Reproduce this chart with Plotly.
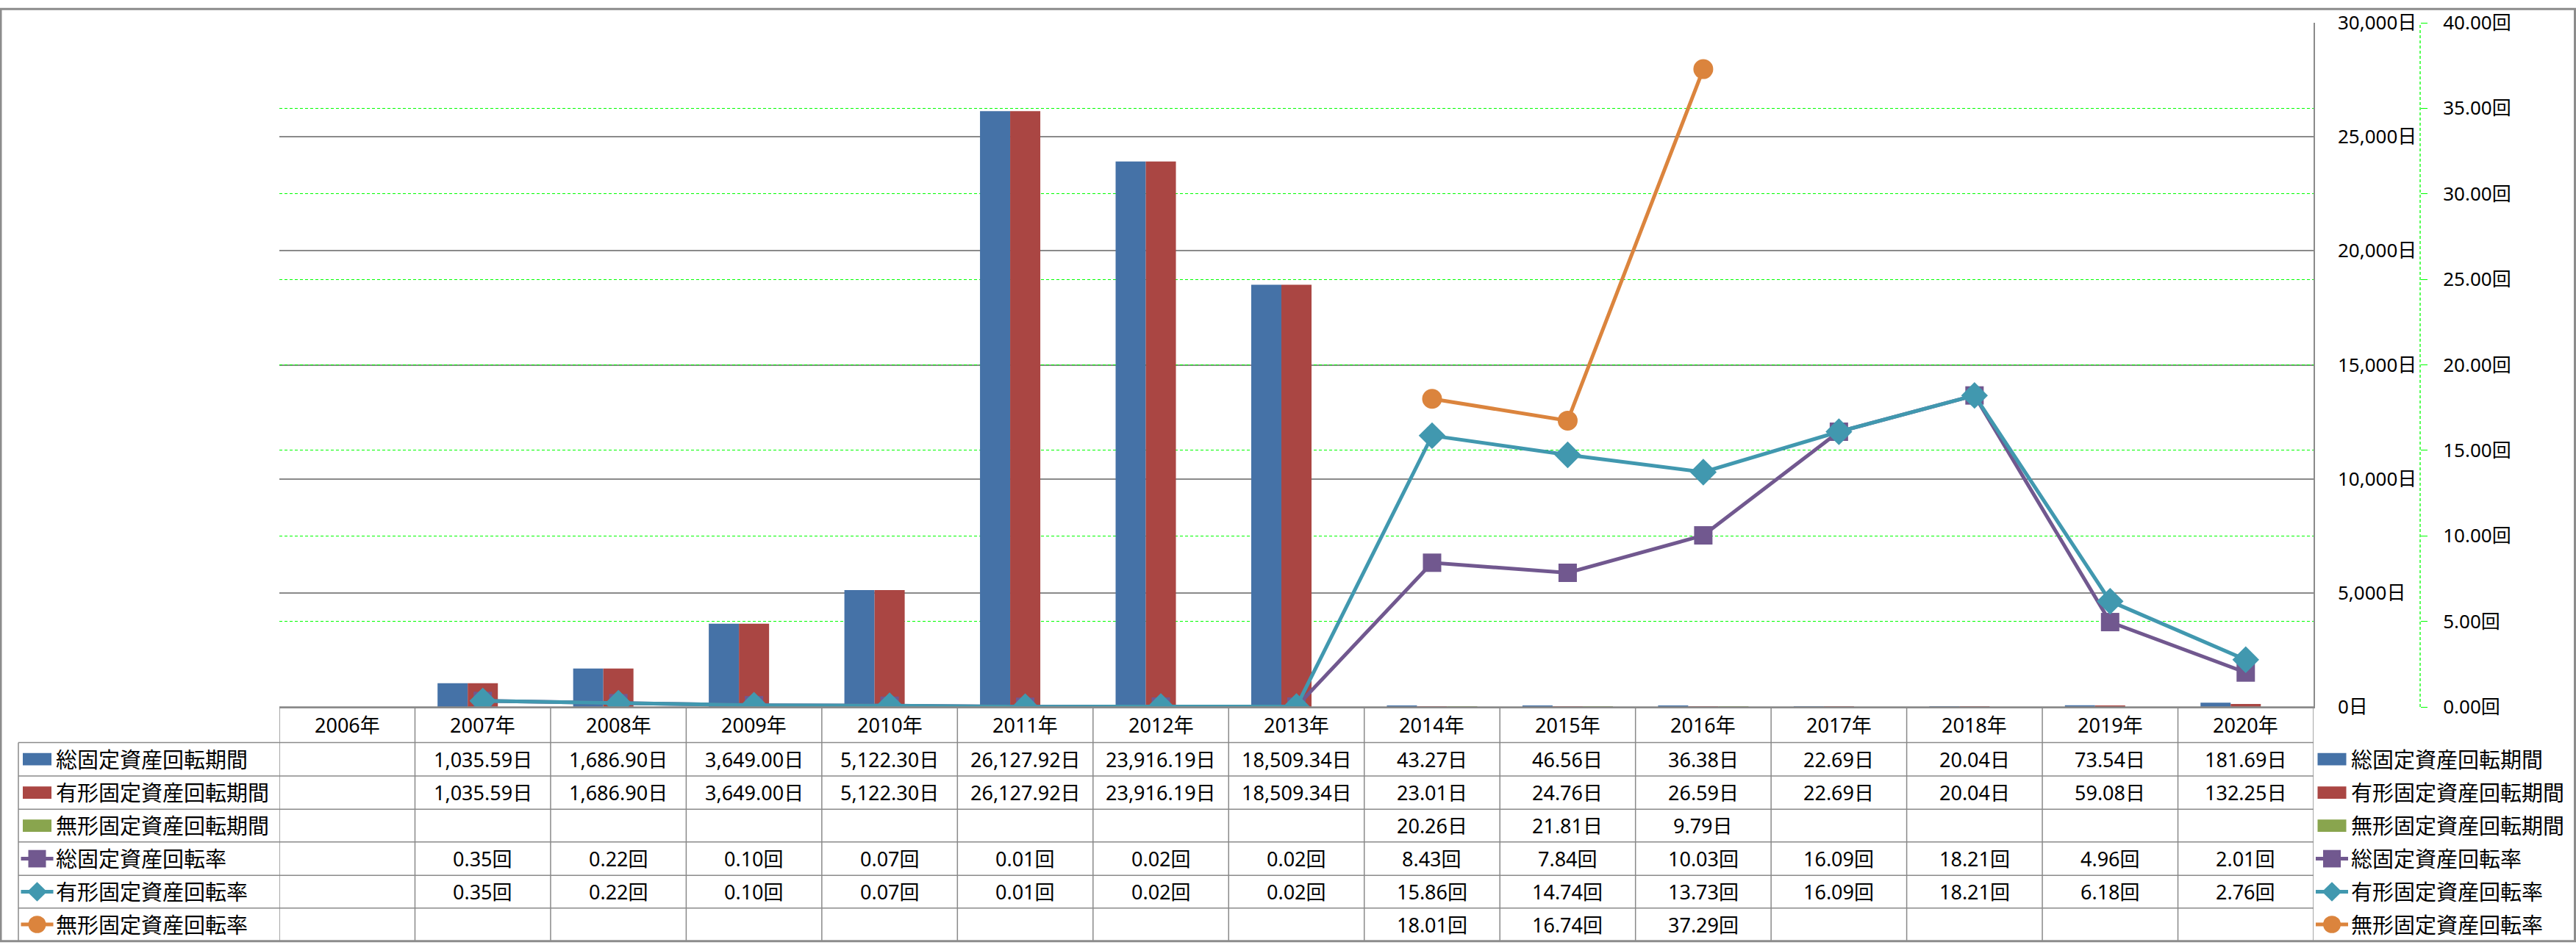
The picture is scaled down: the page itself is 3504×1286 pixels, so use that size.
import plotly.graph_objects as go

# ---------------- data ----------------
years = ["2006年", "2007年", "2008年", "2009年", "2010年", "2011年", "2012年", "2013年",
         "2014年", "2015年", "2016年", "2017年", "2018年", "2019年", "2020年"]

total_period = [None, 1035.59, 1686.90, 3649.00, 5122.30, 26127.92, 23916.19, 18509.34,
                43.27, 46.56, 36.38, 22.69, 20.04, 73.54, 181.69]
tangible_period = [None, 1035.59, 1686.90, 3649.00, 5122.30, 26127.92, 23916.19, 18509.34,
                   23.01, 24.76, 26.59, 22.69, 20.04, 59.08, 132.25]
intangible_period = [None, None, None, None, None, None, None, None,
                     20.26, 21.81, 9.79, None, None, None, None]
total_rate = [None, 0.35, 0.22, 0.10, 0.07, 0.01, 0.02, 0.02,
              8.43, 7.84, 10.03, 16.09, 18.21, 4.96, 2.01]
tangible_rate = [None, 0.35, 0.22, 0.10, 0.07, 0.01, 0.02, 0.02,
                 15.86, 14.74, 13.73, 16.09, 18.21, 6.18, 2.76]
intangible_rate = [None, None, None, None, None, None, None, None,
                   18.01, 16.74, 37.29, None, None, None, None]

names = ["総固定資産回転期間", "有形固定資産回転期間", "無形固定資産回転期間",
         "総固定資産回転率", "有形固定資産回転率", "無形固定資産回転率"]
units = ["日", "日", "日", "回", "回", "回"]

# ---------------- styling ----------------
C_BLUE, C_RED, C_GREEN = "#4572A7", "#AA4643", "#89A54E"
C_PURPLE, C_TEAL, C_ORANGE = "#71588F", "#4198AF", "#DB843D"
GRID = "#8a8a8a"
LIME = "#00FF00"
FONT = "Noto Sans, Noto Sans CJK JP, sans-serif"

W, H = 3504, 1286
ML, MR, MT, MB = 380, 212, 20, 324
PWID = W - ML - MR
PHGT = H - MT - MB
X_RIGHT = 3147  # right edge of plot area / table


def px(x):
    return (x - ML) / PWID


def py(y):
    return (H - MB - y) / PHGT


fig = go.Figure()

bar_series = [(total_period, C_BLUE), (tangible_period, C_RED), (intangible_period, C_GREEN)]
for (vals, col), nm in zip(bar_series, names[:3]):
    fig.add_trace(go.Bar(x=years, y=vals, name=nm, marker=dict(color=col, line=dict(width=0)),
                         yaxis="y"))

line_series = [(total_rate, C_PURPLE, "square", 25),
               (tangible_rate, C_TEAL, "diamond", 28),
               (intangible_rate, C_ORANGE, "circle", 27)]
for (vals, col, sym, sz), nm in zip(line_series, names[3:]):
    fig.add_trace(go.Scatter(x=years, y=vals, name=nm, yaxis="y2", mode="lines+markers",
                             line=dict(color=col, width=5),
                             marker=dict(symbol=sym, size=sz, color=col),
                             connectgaps=False))

shapes = []
annotations = []

# secondary axis dashed line
shapes.append(dict(type="line", xref="paper", yref="paper", x0=1, x1=1, y0=0, y1=1,
                   line=dict(color=LIME, width=1.3, dash="4px,3px")))

# ---------------- data table ----------------
row_lines = [1011, 1057, 1103, 1148, 1194, 1239]
row_centers = [1034, 1080, 1125.5, 1171, 1216.5, 1261.5]
header_center = 986.5
TBL_TOP, TBL_BOT, TBL_LEFT = 962, 1284, 25
LINE = dict(color=GRID, width=1.5)

shapes.append(dict(type="line", xref="paper", yref="paper", x0=px(ML), x1=px(X_RIGHT),
                   y0=py(TBL_TOP), y1=py(TBL_TOP), line=LINE))
for yy in row_lines:
    shapes.append(dict(type="line", xref="paper", yref="paper", x0=px(TBL_LEFT), x1=px(X_RIGHT),
                       y0=py(yy), y1=py(yy), line=LINE))
for i in range(len(years) + 1):
    shapes.append(dict(type="line", xref="x", yref="paper", x0=i - 0.5, x1=i - 0.5,
                       y0=py(TBL_TOP), y1=py(TBL_BOT), line=LINE))
shapes.append(dict(type="line", xref="paper", yref="paper", x0=px(TBL_LEFT), x1=px(TBL_LEFT),
                   y0=py(row_lines[0]), y1=py(TBL_BOT), line=LINE))

# header row
for yr in years:
    annotations.append(dict(x=yr, xref="x", y=py(header_center), yref="paper", text=yr,
                            showarrow=False, font=dict(size=27, color="black", family=FONT),
                            xanchor="center", yanchor="middle"))

all_vals = [total_period, tangible_period, intangible_period,
            total_rate, tangible_rate, intangible_rate]
for vals, unit, cy in zip(all_vals, units, row_centers):
    for yr, v in zip(years, vals):
        if v is None:
            continue
        txt = f"{v:,.2f}{unit}"
        annotations.append(dict(x=yr, xref="x", y=py(cy), yref="paper", text=txt,
                                showarrow=False, font=dict(size=27, color="black", family=FONT),
                                xanchor="center", yanchor="middle"))

key_defs = [("bar", C_BLUE, None), ("bar", C_RED, None), ("bar", C_GREEN, None),
            ("line", C_PURPLE, "square"), ("line", C_TEAL, "diamond"), ("line", C_ORANGE, "circle")]


def add_key(kind, col, sym, cx, cy):
    if kind == "bar":
        shapes.append(dict(type="rect", xref="paper", yref="paper",
                           x0=px(cx - 19.5), x1=px(cx + 19.5), y0=py(cy + 8.5), y1=py(cy - 8.5),
                           fillcolor=col, line=dict(width=0)))
    else:
        shapes.append(dict(type="line", xref="paper", yref="paper",
                           x0=px(cx - 22), x1=px(cx + 22), y0=py(cy), y1=py(cy),
                           line=dict(color=col, width=5)))
        if sym == "square":
            r = 12
            shapes.append(dict(type="rect", xref="paper", yref="paper",
                               x0=px(cx - r), x1=px(cx + r), y0=py(cy + r), y1=py(cy - r),
                               fillcolor=col, line=dict(width=0)))
        elif sym == "diamond":
            r = 13.5
            path = (f"M{px(cx - r)},{py(cy)} L{px(cx)},{py(cy - r)} "
                    f"L{px(cx + r)},{py(cy)} L{px(cx)},{py(cy + r)} Z")
            shapes.append(dict(type="path", xref="paper", yref="paper", path=path,
                               fillcolor=col, line=dict(width=0)))
        else:
            r = 12
            shapes.append(dict(type="circle", xref="paper", yref="paper",
                               x0=px(cx - r), x1=px(cx + r), y0=py(cy + r), y1=py(cy - r),
                               fillcolor=col, line=dict(width=0)))


for (kind, col, sym), nm, cy in zip(key_defs, names, row_centers):
    # row header in table
    add_key(kind, col, sym, 50.5, cy)
    annotations.append(dict(x=px(74), xref="paper", y=py(cy), yref="paper", text=nm,
                            showarrow=False, font=dict(size=29, color="black", family=FONT),
                            xanchor="left", yanchor="middle"))
    # right-hand legend
    add_key(kind, col, sym, 3172, cy)
    annotations.append(dict(x=px(3196), xref="paper", y=py(cy), yref="paper", text=nm,
                            showarrow=False, font=dict(size=29, color="black", family=FONT),
                            xanchor="left", yanchor="middle"))

# outer frame
shapes.append(dict(type="rect", xref="paper", yref="paper",
                   x0=px(1), x1=px(W - 1.5), y0=py(H - 1.5), y1=py(1),
                   line=dict(color="#8c8c8c", width=3)))

fig.update_layout(
    width=W, height=H,
    margin=dict(l=ML, r=MR, t=MT, b=MB, pad=0),
    paper_bgcolor="white", plot_bgcolor="white",
    showlegend=False,
    barmode="group", bargap=0.333, bargroupgap=0,
    font=dict(family=FONT, color="black", size=26),
    xaxis=dict(domain=[0, (X_RIGHT - ML) / PWID], type="category",
               range=[-0.5, len(years) - 0.5], autorange=False, showticklabels=False,
               showgrid=False, showline=True, linecolor=GRID, linewidth=1.5, ticks="",
               zeroline=False),
    yaxis=dict(side="right", anchor="x", range=[0, 30000], dtick=5000, tickformat=",",
               ticksuffix="日", showgrid=True, gridcolor=GRID, gridwidth=1.5,
               showline=True, linecolor=GRID, linewidth=1.5, ticks="",
               ticklabelstandoff=26, zeroline=False,
               tickfont=dict(size=26, color="black", family=FONT)),
    yaxis2=dict(overlaying="y", side="right", anchor="free", position=1,
                range=[0, 40], dtick=5, tickformat=".2f", ticksuffix="回",
                showgrid=True, gridcolor=LIME, gridwidth=1.3, griddash="4px,3px",
                showline=False, ticks="outside", ticklen=9, tickcolor=LIME, tickwidth=1.3,
                ticklabelstandoff=16, zeroline=False,
                tickfont=dict(size=26, color="black", family=FONT)),
    shapes=shapes,
    annotations=annotations,
)

fig.write_html("out.html")
